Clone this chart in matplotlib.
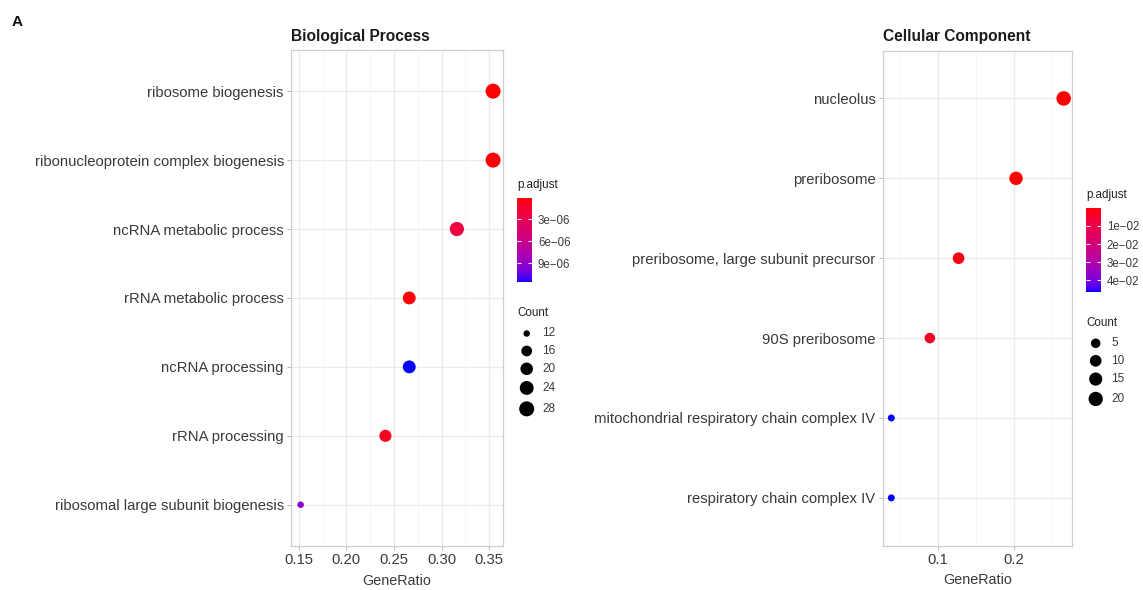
import numpy as np
import matplotlib
matplotlib.use('Agg')
import matplotlib.pyplot as plt
from matplotlib.colors import ListedColormap, Normalize
from matplotlib.cm import ScalarMappable

plt.rcParams['font.family'] = ['Liberation Sans', 'DejaVu Sans']

# ---------------- data ----------------
bp_terms = ["ribosome biogenesis", "ribonucleoprotein complex biogenesis",
            "ncRNA metabolic process", "rRNA metabolic process",
            "ncRNA processing", "rRNA processing",
            "ribosomal large subunit biogenesis"]
bp_ratio = [0.354, 0.354, 0.316, 0.266, 0.266, 0.241, 0.152]
bp_count = [28, 28, 25, 21, 21, 19, 12]
bp_padj = [1.0e-7, 2.0e-7, 2.2e-6, 3.0e-7, 1.157e-5, 9.0e-7, 9.3e-6]
bp_padj_ticks = [3e-6, 6e-6, 9e-6]
bp_count_breaks = [12, 16, 20, 24, 28]
bp_xticks = [0.15, 0.20, 0.25, 0.30, 0.35]
bp_xticklabels = ["0.15", "0.20", "0.25", "0.30", "0.35"]

cc_terms = ["nucleolus", "preribosome", "preribosome, large subunit precursor",
            "90S preribosome", "mitochondrial respiratory chain complex IV",
            "respiratory chain complex IV"]
cc_ratio = [0.266, 0.203, 0.127, 0.089, 0.038, 0.038]
cc_count = [21, 16, 10, 7, 3, 3]
cc_padj = [1.0e-4, 4.0e-4, 1.8e-3, 4.6e-3, 0.0462, 0.0462]
cc_padj_ticks = [0.01, 0.02, 0.03, 0.04]
cc_count_breaks = [5, 10, 15, 20]
cc_xticks = [0.1, 0.2]
cc_xticklabels = ["0.1", "0.2"]

# ---------------- colormap (red -> blue, Lab interpolation like ggplot) ----------------
def _lin(c):
    c = np.asarray(c, float)
    return np.where(c <= 0.04045, c / 12.92, ((c + 0.055) / 1.055) ** 2.4)

def _gam(c):
    c = np.clip(c, 0, 1)
    return np.where(c <= 0.0031308, 12.92 * c, 1.055 * c ** (1 / 2.4) - 0.055)

M = np.array([[0.4124, 0.3576, 0.1805], [0.2126, 0.7152, 0.0722], [0.0193, 0.1192, 0.9505]])
Minv = np.linalg.inv(M)
WP = np.array([0.95047, 1.0, 1.08883])

def rgb2lab(rgb):
    xyz = M @ _lin(rgb) / WP
    f = np.where(xyz > 216 / 24389, np.cbrt(xyz), (24389 / 27 * xyz + 16) / 116)
    return np.array([116 * f[1] - 16, 500 * (f[0] - f[1]), 200 * (f[1] - f[2])])

def lab2rgb(lab):
    L, a, b = lab
    fy = (L + 16) / 116
    fx = fy + a / 500
    fz = fy - b / 200
    f = np.array([fx, fy, fz])
    xyz = np.where(f ** 3 > 216 / 24389, f ** 3, (116 * f - 16) / (24389 / 27)) * WP
    return _gam(Minv @ xyz)

lab_r = rgb2lab([1, 0, 0])
lab_b = rgb2lab([0, 0, 1])
cols = [lab2rgb(lab_r + (lab_b - lab_r) * t) for t in np.linspace(0, 1, 256)]
cmap = ListedColormap(cols)

# ---------------- figure ----------------
W, H, DPI = 1143, 590, 100
fig = plt.figure(figsize=(W / DPI, H / DPI), dpi=DPI)
fig.patch.set_facecolor('white')


def fr(x0, y0, x1, y1):
    return [x0 / W, 1 - y1 / H, (x1 - x0) / W, (y1 - y0) / H]


def diam(c, cmin, cmax, dmin, dmax):
    c = np.asarray(c, float)
    return dmin + (dmax - dmin) * np.sqrt((c - cmin) / (cmax - cmin))


def to_s(d):
    return (np.asarray(d) * 72.0 / DPI) ** 2


lax = fig.add_axes([0, 0, 1, 1], zorder=5)
lax.set_xlim(0, W)
lax.set_ylim(H, 0)
lax.axis('off')
lax.patch.set_alpha(0)


def panel(box, terms, ratio, count, padj, xticks, xticklabels, title,
          dmin, dmax, cbox, ticks, breaks, title_base):
    ax = fig.add_axes(fr(*box))
    n = len(terms)
    y = n - np.arange(n)
    cmin, cmax = min(count), max(count)
    norm = Normalize(min(padj), max(padj))
    ax.scatter(ratio, y, s=to_s(diam(count, cmin, cmax, dmin, dmax)), c=padj,
               cmap=cmap, norm=norm, edgecolors='none', zorder=3)
    ax.set_yticks(y)
    ax.set_yticklabels(terms)
    ax.set_xticks(xticks)
    ax.set_xticklabels(xticklabels)
    step = xticks[1] - xticks[0]
    minor = np.arange(xticks[0] - step / 2, xticks[-1] + step, step)
    ax.set_xticks(minor, minor=True)
    lo, hi = min(ratio), max(ratio)
    ex = (hi - lo) * 0.05
    ax.set_xlim(lo - ex, hi + ex)
    ax.set_ylim(0.4, n + 0.6)
    ax.grid(which='major', color='#EBEBEB', lw=0.9)
    ax.grid(which='minor', axis='x', color='#F3F3F3', lw=0.5)
    ax.set_axisbelow(True)
    for sp in ax.spines.values():
        sp.set_color('#CFCFCF')
        sp.set_linewidth(0.9)
    ax.tick_params(which='major', length=2.7, width=0.7, color='#B5B5B5',
                   labelsize=10.7, labelcolor='#3A3A3A', pad=2.5)
    ax.tick_params(which='minor', length=0)
    ax.set_xlabel('GeneRatio', fontsize=10.4, color='#3A3A3A', labelpad=4.5)
    lax.text(box[0], title_base, title, fontsize=11.2, fontweight='bold',
             color='#1A1A1A', va='baseline', ha='left')

    # colorbar
    cx0, cy0, cx1, cy1 = cbox
    cax = fig.add_axes(fr(*cbox))
    cb = fig.colorbar(ScalarMappable(norm=norm, cmap=cmap), cax=cax, ticks=ticks)
    cb.outline.set_visible(False)
    cax.invert_yaxis()
    cb.set_ticklabels([f"{t:.0e}".replace('-', '\u2212') for t in ticks])
    cax.tick_params(direction='in', length=3, width=0.8, color='white',
                    left=True, right=True, labelleft=False, labelright=True,
                    labelsize=8.3, labelcolor='#3A3A3A', pad=4.3)
    lax.text(cx0, cy0 - 9.5, 'p.adjust', fontsize=8.4, color='#222222',
             va='baseline', ha='left')

    # size legend
    cnt_base = cy1 + 34.5
    lax.text(cx0, cnt_base, 'Count', fontsize=8.4, color='#222222',
             va='baseline', ha='left')
    dk = diam(breaks, cmin, cmax, dmin, dmax)
    hk = np.maximum(17.5, 1.45 * dk)
    yc = cnt_base + 17 + (hk[0] - 17.5) / 2 + np.concatenate([[0], np.cumsum((hk[:-1] + hk[1:]) / 2)])
    lax.scatter(np.full(len(breaks), cx0 + 9.7), yc, s=to_s(dk), c='black',
                edgecolors='none')
    for yy, b in zip(yc, breaks):
        lax.text(cx0 + 25.5, yy, str(b), fontsize=8.5, color='#3A3A3A',
                 va='center', ha='left')
    return ax


panel((291, 49.8, 502.7, 546.1), bp_terms, bp_ratio, bp_count, bp_padj,
      bp_xticks, bp_xticklabels, 'Biological Process', 6.5, 15.0,
      (517, 197.8, 532, 282), bp_padj_ticks, bp_count_breaks, 40.5)
panel((882.7, 50.5, 1072.3, 545.8), cc_terms, cc_ratio, cc_count, cc_padj,
      cc_xticks, cc_xticklabels, 'Cellular Component', 7.0, 14.5,
      (1086, 207.7, 1100.7, 291.8), cc_padj_ticks, cc_count_breaks, 40.5)

lax.text(12, 26, 'A', fontsize=11, fontweight='bold', color='#111111',
         va='baseline', ha='left')

fig.savefig('out.png', dpi=DPI)
